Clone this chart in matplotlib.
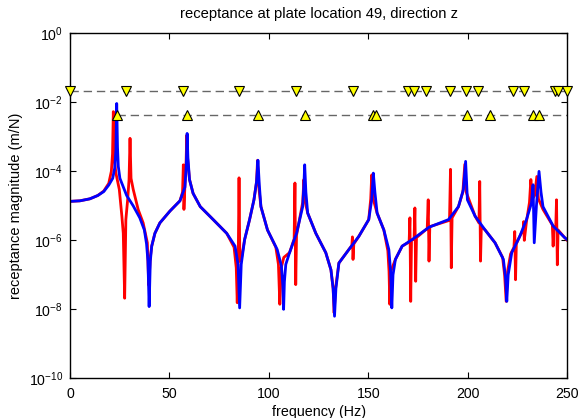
import numpy as np
import matplotlib
matplotlib.use("Agg")
import matplotlib.pyplot as plt

plt.rcParams['font.family'] = ['Liberation Sans', 'DejaVu Sans']
plt.rcParams['mathtext.fontset'] = 'custom'
plt.rcParams['mathtext.rm'] = 'Liberation Sans'
plt.rcParams['mathtext.it'] = 'Liberation Sans'
plt.rcParams['mathtext.bf'] = 'Liberation Sans'

# measured receptance (red) - frequency (Hz) and magnitude (m/N)
freq_red = [0, 5, 10, 14, 17, 19.5, 20.8, 21.4, 21.8, 22.2, 23.1, 24.8, 26.1, 26.8, 27.5,
            28.1, 29.0, 29.7, 30.2, 30.7, 31.8, 34.3, 36.8, 38.9, 39.6, 40.4, 41.1, 42.7,
            45.2, 50.3, 55.3, 56.6, 57.0, 57.3, 57.8, 58.4, 58.7, 59.1, 60.1, 61.9, 65.5,
            72.0, 78.8, 82.5, 83.6, 84.1, 84.6, 85.0, 85.4, 86.3, 87.8, 90.3, 92.5, 93.8,
            94.3, 95.0, 96.0, 99.3, 103.5, 104.8, 105.5, 106.2, 107.5, 110.4, 112.7, 113.1,
            113.5, 113.9, 117.0, 117.6, 118.3, 119.5, 123.6, 128.6, 131.2, 132.3, 132.8,
            133.5, 135.2, 140.2, 141.7, 142.0, 142.3, 142.7, 145.2, 150.2, 151.2, 151.7,
            152.4, 154.4, 157.8, 159.8, 160.4, 160.8, 161.3, 163.6, 167.0, 170.5, 170.9,
            171.3, 171.7, 173.0, 173.4, 173.8, 174.2, 179.6, 180.1, 180.5, 180.9, 190.8,
            191.3, 191.7, 192.1, 195.3, 197.5, 198.5, 199.2, 203.7, 205.6, 206.0, 206.4,
            206.8, 208.7, 213.7, 217.5, 218.5, 219.3, 220.0, 221.5, 223.2, 223.6, 224.0,
            224.4, 226.1, 227.8, 228.1, 228.4, 229.5, 231.0, 231.7, 232.5, 233.6, 234.7,
            235.5, 237.8, 242.5, 242.9, 243.3, 244.2, 244.6, 245.0, 245.4, 248.7, 250]
mag_red = [1.35e-5, 1.4e-5, 1.6e-5, 2.0e-5, 2.7e-5, 4.5e-5, 1.0e-4, 3.2e-4, 5.4e-3, 2.5e-4,
           8.9e-5, 3.0e-5, 5.0e-6, 1.6e-6, 2.1e-8, 4.0e-6, 1.5e-5, 5.8e-5, 9.1e-4, 6.3e-5,
           3.0e-5, 7.8e-6, 3.2e-6, 8.5e-7, 5.0e-8, 3.2e-7, 6.8e-7, 1.6e-6, 3.2e-6, 7.1e-6,
           1.4e-5, 2.5e-5, 1.55e-4, 7.9e-6, 4.0e-5, 2.0e-4, 1.1e-3, 2.5e-4, 5.8e-5, 2.3e-5,
           9.5e-6, 4.0e-6, 1.6e-6, 6.3e-7, 1.6e-7, 1.55e-8, 3.2e-7, 6.5e-5, 2.5e-7, 3.2e-7,
           1.05e-6, 4.0e-6, 1.5e-5, 5.0e-5, 2.1e-4, 3.2e-5, 9.5e-6, 2.0e-6, 6.3e-7, 2.0e-7,
           1.4e-8, 1.6e-7, 3.2e-7, 4.4e-7, 1.1e-6, 4.6e-5, 5.2e-8, 1.4e-6, 1.26e-5, 5.8e-5,
           1.26e-5, 6.2e-6, 1.6e-6, 4.4e-7, 1.4e-7, 4.0e-8, 7.9e-9, 4.0e-8, 2.2e-7, 5.4e-7,
           7.1e-7, 1.26e-6, 2.8e-7, 7.9e-7, 1.3e-6, 4.0e-6, 1.6e-5, 7.9e-5, 1.6e-5, 6.2e-6,
           2.0e-6, 5.0e-7, 1.26e-7, 1.4e-8, 1.26e-7, 2.8e-7, 6.8e-7, 8.9e-7, 4.5e-6, 1.7e-8,
           1.0e-6, 1.1e-6, 8.7e-6, 6.5e-8, 1.2e-6, 2.2e-6, 1.5e-5, 2.5e-7, 2.5e-6, 3.8e-6,
           1.15e-4, 1.6e-7, 4.5e-6, 9.5e-6, 2.5e-5, 1.6e-4, 2.5e-5, 5.0e-6, 3.2e-6, 5.1e-5,
           2.5e-7, 2.5e-6, 2.0e-6, 8.5e-7, 3.2e-7, 1.0e-7, 1.7e-8, 1.26e-7, 4.0e-7, 6.3e-7,
           1.8e-6, 7.2e-8, 7.9e-7, 1.3e-6, 2.0e-6, 3.5e-6, 1.0e-6, 3.5e-6, 1.26e-5, 5.8e-5,
           1.6e-5, 2.0e-5, 7.1e-5, 1.6e-5, 7.9e-6, 2.8e-6, 6.8e-7, 2.5e-6, 2.2e-6, 1.5e-5,
           1.95e-7, 2.0e-6, 1.2e-6, 1.0e-6]

# model receptance (blue)
freq_blue = [0, 5, 10, 14, 17, 19.5, 21.5, 22.5, 23.1, 23.5, 23.9, 24.3, 25.1, 28.5, 31.8,
             35.1, 37.4, 38.5, 39.2, 39.8, 40.4, 41.1, 42.7, 45.2, 50.3, 55.3, 57.8, 58.5,
             58.9, 59.3, 60.1, 61.9, 65.5, 72.0, 78.8, 83.0, 84.5, 85.3, 86.1, 87.8, 90.3,
             92.5, 93.8, 94.5, 95.2, 96.0, 99.3, 104.2, 106.3, 107.0, 107.4, 107.8, 108.5,
             110.4, 113.9, 117.0, 117.6, 118.0, 118.6, 119.5, 123.6, 128.6, 131.2, 132.3,
             133.0, 133.7, 135.2, 140.2, 145.2, 150.2, 151.7, 152.5, 153.3, 154.4, 157.8,
             160.3, 161.2, 161.8, 162.4, 163.6, 167.0, 172.0, 180.5, 190.3, 195.3, 197.8,
             198.9, 199.8, 203.7, 208.7, 213.7, 217.9, 219.0, 219.6, 220.3, 222.1, 226.1,
             229.5, 232.0, 232.8, 233.4, 234.5, 235.8, 236.8, 237.8, 242.9, 248.7, 250]
mag_blue = [1.35e-5, 1.4e-5, 1.6e-5, 2.0e-5, 2.6e-5, 4.0e-5, 6.3e-5, 1.26e-4, 4.0e-4, 9.3e-3,
            5.0e-4, 1.4e-4, 6.3e-5, 2.0e-5, 1.0e-5, 4.5e-6, 2.0e-6, 7.9e-7, 2.5e-7, 1.2e-8,
            2.5e-7, 6.8e-7, 1.6e-6, 3.2e-6, 7.1e-6, 1.4e-5, 3.5e-5, 1.6e-4, 1.26e-3, 2.5e-4,
            5.8e-5, 2.3e-5, 9.5e-6, 4.0e-6, 1.6e-6, 6.8e-7, 2.0e-7, 1.1e-8, 2.0e-7, 1.05e-6,
            4.0e-6, 1.5e-5, 5.0e-5, 2.1e-4, 4.0e-5, 9.5e-6, 2.0e-6, 5.4e-7, 1.8e-7, 5.0e-8,
            1.0e-8, 6.3e-8, 2.0e-7, 4.4e-7, 1.6e-6, 9.5e-6, 4.0e-5, 1.55e-4, 2.5e-5, 6.2e-6,
            1.6e-6, 4.4e-7, 1.4e-7, 4.0e-8, 6.3e-9, 4.0e-8, 2.2e-7, 5.4e-7, 1.3e-6, 4.0e-6,
            1.5e-5, 8.9e-5, 2.5e-5, 6.2e-6, 2.0e-6, 5.4e-7, 1.26e-7, 1.1e-8, 1.0e-7, 2.8e-7,
            6.8e-7, 1.05e-6, 2.4e-6, 4.0e-6, 9.5e-6, 3.0e-5, 1.95e-4, 1.5e-5, 5.0e-6, 2.0e-6,
            8.5e-7, 2.8e-7, 7.9e-8, 1.7e-8, 1.0e-7, 4.4e-7, 1.3e-6, 4.0e-6, 1.2e-5, 4.1e-5,
            8.5e-7, 1.0e-5, 1.0e-4, 2.5e-5, 9.5e-6, 2.6e-6, 1.2e-6, 1.05e-6]

# natural frequencies marked with triangles
nat_freq_down = [0, 28.0, 56.6, 85.1, 113.6, 142.1, 170.0, 173.0, 179.2, 191.3, 199.0,
                 205.2, 222.8, 228.3, 243.7, 245.4, 249.8]
nat_freq_up = [23.5, 58.9, 94.5, 118.2, 152.4, 154.1, 199.8, 211.1, 232.8, 235.8]
level_down = 2.2e-2
level_up = 4.3e-3

fig = plt.figure(figsize=(5.83, 4.18), dpi=100)
ax = fig.add_axes([0.120, 0.095, 0.853, 0.825])

ax.semilogy(freq_red, mag_red, color='red', lw=2)
ax.semilogy(freq_blue, mag_blue, color='blue', lw=2)

ax.plot([nat_freq_down[0], 250], [level_down, level_down], color='0.4', lw=1.0,
        dashes=(6, 3.5))
ax.plot([nat_freq_up[0], 250], [level_up, level_up], color='0.4', lw=1.0,
        dashes=(6, 3.5))
ax.plot(nat_freq_down, [level_down] * len(nat_freq_down), 'v', ms=7.5, mfc='yellow',
        mec='black', mew=0.8, clip_on=False, zorder=5)
ax.plot(nat_freq_up, [level_up] * len(nat_freq_up), '^', ms=7.5, mfc='yellow',
        mec='black', mew=0.8, clip_on=False, zorder=5)

ax.set_xlim(0, 250)
ax.set_ylim(1e-10, 1e0)
ax.set_xticks([0, 50, 100, 150, 200, 250])
ax.set_yticks([1e-10, 1e-8, 1e-6, 1e-4, 1e-2, 1e0])
ax.minorticks_off()
ax.tick_params(direction='in', top=True, right=True, length=4, labelsize=10.2)
ax.tick_params(axis='x', pad=6)
ax.tick_params(axis='y', pad=5)
for s in ax.spines.values():
    s.set_linewidth(1.0)

ax.set_title('receptance at plate location 49, direction z', fontsize=10.6, pad=11)
ax.set_xlabel('frequency (Hz)', fontsize=10.3, labelpad=3)
ax.set_ylabel('receptance magnitude (m/N)', fontsize=10.5, labelpad=4)

fig.savefig('out.png', dpi=100)
